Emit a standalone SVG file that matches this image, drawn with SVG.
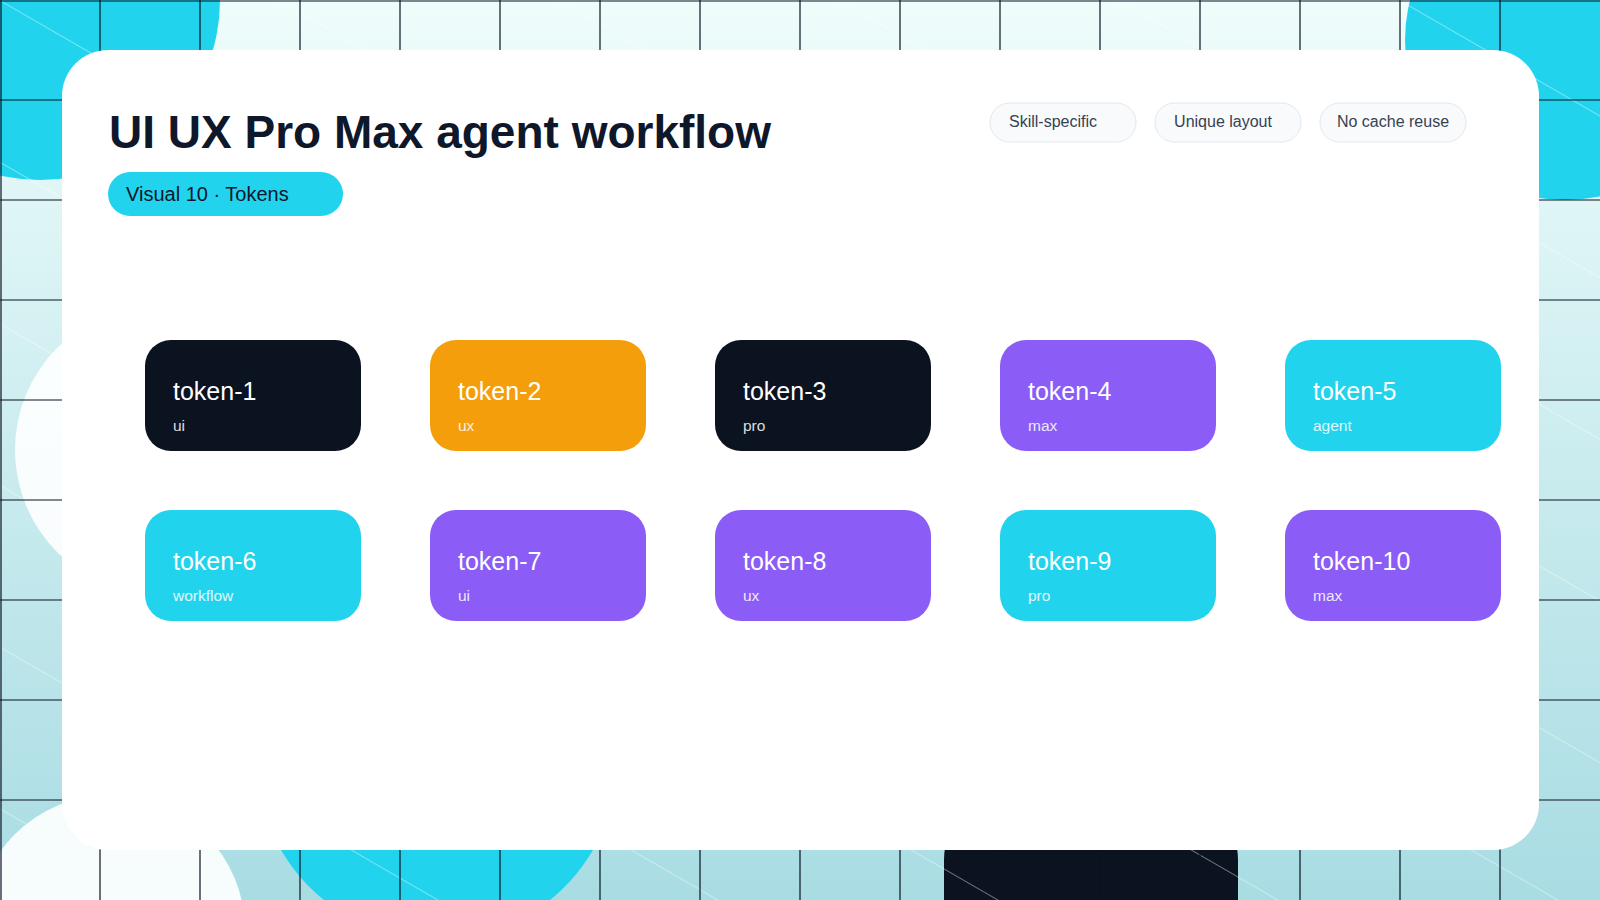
<svg xmlns="http://www.w3.org/2000/svg" width="1600" height="900" viewBox="0 0 1600 900">
<defs>
<linearGradient id="bg" x1="0" y1="0" x2="0" y2="1"><stop offset="0" stop-color="#effdfb"/><stop offset="1" stop-color="#a8dce3"/></linearGradient>
<pattern id="diag" width="140" height="140" patternUnits="userSpaceOnUse" patternTransform="rotate(30)"><line x1="0" y1="0" x2="140" y2="0" stroke="#ffffff" stroke-width="1.2" stroke-opacity="0.8"/></pattern>
<style>
.grid line{stroke:#0b1220;stroke-width:1.2}
.tok rect{rx:26px}
.t{font-family:"Liberation Sans",Arial,sans-serif;fill:#ffffff;font-size:25px}
.s{font-family:"Liberation Sans",Arial,sans-serif;fill:#ffffff;font-size:15.5px;opacity:.85}
.chip rect{fill:#f8fafc;stroke:#e2e8f0;stroke-width:1}
.chip text{font-family:"Liberation Sans",Arial,sans-serif;fill:#374151;font-size:16px;text-anchor:middle}
</style>
</defs>
<rect width="1600" height="900" fill="url(#bg)"/>
<circle cx="160" cy="450" r="145" fill="#ffffff" opacity="0.9"/>
<circle cx="110" cy="930" r="135" fill="#ffffff" opacity="0.9"/>
<circle cx="40" cy="0" r="180" fill="#22d3ee"/>
<circle cx="1565" cy="40" r="160" fill="#22d3ee"/>
<circle cx="437" cy="760" r="180" fill="#22d3ee"/>
<rect x="944" y="790" width="294" height="200" rx="70" fill="#0b1220"/>
<rect width="1600" height="900" fill="url(#diag)"/>
<g class="grid">
<line x1="100" y1="0" x2="100" y2="900"/><line x1="200" y1="0" x2="200" y2="900"/><line x1="300" y1="0" x2="300" y2="900"/><line x1="400" y1="0" x2="400" y2="900"/><line x1="500" y1="0" x2="500" y2="900"/><line x1="600" y1="0" x2="600" y2="900"/><line x1="700" y1="0" x2="700" y2="900"/><line x1="800" y1="0" x2="800" y2="900"/><line x1="900" y1="0" x2="900" y2="900"/><line x1="1000" y1="0" x2="1000" y2="900"/><line x1="1100" y1="0" x2="1100" y2="900"/><line x1="1200" y1="0" x2="1200" y2="900"/><line x1="1300" y1="0" x2="1300" y2="900"/><line x1="1400" y1="0" x2="1400" y2="900"/><line x1="1500" y1="0" x2="1500" y2="900"/><line x1="1" y1="0" x2="1" y2="900"/>
<line x1="0" y1="100" x2="1600" y2="100"/><line x1="0" y1="200" x2="1600" y2="200"/><line x1="0" y1="300" x2="1600" y2="300"/><line x1="0" y1="400" x2="1600" y2="400"/><line x1="0" y1="500" x2="1600" y2="500"/><line x1="0" y1="600" x2="1600" y2="600"/><line x1="0" y1="700" x2="1600" y2="700"/><line x1="0" y1="800" x2="1600" y2="800"/><line x1="0" y1="1" x2="1600" y2="1"/>
</g>
<rect x="62" y="50" width="1477" height="800" rx="46" fill="#ffffff"/>
<g id="header">
<text x="109" y="148" font-family="Liberation Sans,Arial,sans-serif" font-weight="bold" font-size="46" fill="#0f172a">UI UX Pro Max agent workflow</text>
<rect x="108" y="172" width="235" height="44" rx="22" fill="#22d3ee"/>
<text x="126" y="201" font-family="Liberation Sans,Arial,sans-serif" font-size="20" fill="#0f172a">Visual 10 · Tokens</text>
</g>
<g id="chips" class="chip">
<rect x="990" y="103" width="146" height="39" rx="19.5"/><text x="1053" y="127">Skill-specific</text>
<rect x="1155" y="103" width="146" height="39" rx="19.5"/><text x="1223" y="127">Unique layout</text>
<rect x="1320" y="103" width="146" height="39" rx="19.5"/><text x="1393" y="127">No cache reuse</text>
</g>
<g class="tok">
<g id="token-1"><rect x="145" y="340" width="216" height="111" fill="#0b1220"/><text class="t" x="173" y="400">token-1</text><text class="s" x="173" y="431">ui</text></g>
<g id="token-2"><rect x="430" y="340" width="216" height="111" fill="#f59e0b"/><text class="t" x="458" y="400">token-2</text><text class="s" x="458" y="431">ux</text></g>
<g id="token-3"><rect x="715" y="340" width="216" height="111" fill="#0b1220"/><text class="t" x="743" y="400">token-3</text><text class="s" x="743" y="431">pro</text></g>
<g id="token-4"><rect x="1000" y="340" width="216" height="111" fill="#8b5cf6"/><text class="t" x="1028" y="400">token-4</text><text class="s" x="1028" y="431">max</text></g>
<g id="token-5"><rect x="1285" y="340" width="216" height="111" fill="#22d3ee"/><text class="t" x="1313" y="400">token-5</text><text class="s" x="1313" y="431">agent</text></g>
<g id="token-6"><rect x="145" y="510" width="216" height="111" fill="#22d3ee"/><text class="t" x="173" y="570">token-6</text><text class="s" x="173" y="601">workflow</text></g>
<g id="token-7"><rect x="430" y="510" width="216" height="111" fill="#8b5cf6"/><text class="t" x="458" y="570">token-7</text><text class="s" x="458" y="601">ui</text></g>
<g id="token-8"><rect x="715" y="510" width="216" height="111" fill="#8b5cf6"/><text class="t" x="743" y="570">token-8</text><text class="s" x="743" y="601">ux</text></g>
<g id="token-9"><rect x="1000" y="510" width="216" height="111" fill="#22d3ee"/><text class="t" x="1028" y="570">token-9</text><text class="s" x="1028" y="601">pro</text></g>
<g id="token-10"><rect x="1285" y="510" width="216" height="111" fill="#8b5cf6"/><text class="t" x="1313" y="570">token-10</text><text class="s" x="1313" y="601">max</text></g>
</g>
<g id="connectors"/>
</svg>
